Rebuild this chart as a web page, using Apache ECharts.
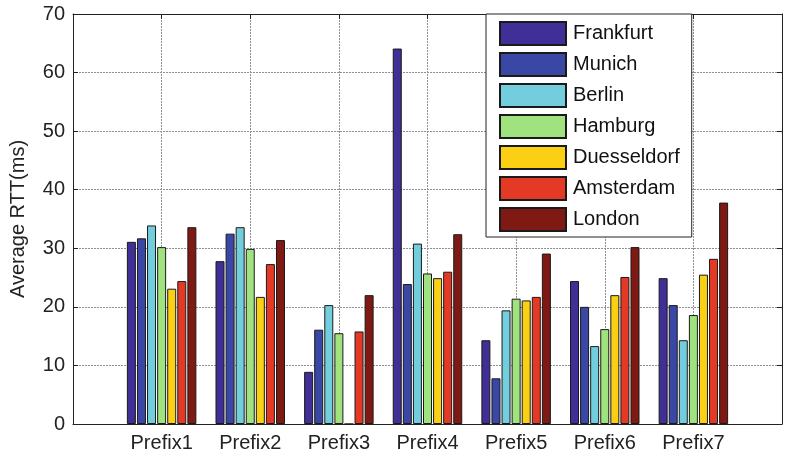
<!DOCTYPE html>
<html>
<head>
<meta charset="utf-8">
<script src="https://cdn.jsdelivr.net/npm/echarts@6/dist/echarts.min.js"></script>
<style>html,body{margin:0;padding:0;background:#fff}#c{width:785px;height:456px}</style>
</head>
<body>
<div id="c"></div>
<script>
var categories = ['Prefix1','Prefix2','Prefix3','Prefix4','Prefix5','Prefix6','Prefix7'];
var cities = ['Frankfurt','Munich','Berlin','Hamburg','Duesseldorf','Amsterdam','London'];
var frankfurt   = [31.1, 27.8,  8.9, 64.1, 14.3, 24.4, 24.9];
var munich      = [31.7, 32.5, 16.1, 23.9,  7.8, 20.0, 20.3];
var berlin      = [33.9, 33.6, 20.3, 30.8, 19.4, 13.3, 14.3];
var hamburg     = [30.2, 29.9, 15.5, 25.7, 21.4, 16.2, 18.6];
var duesseldorf = [23.1, 21.7,  0.0, 24.9, 21.1, 22.0, 25.5];
var amsterdam   = [24.4, 27.3, 15.8, 26.0, 21.7, 25.1, 28.2];
var london      = [33.6, 31.4, 22.0, 32.4, 29.1, 30.2, 37.8];
var yTicks = [0,10,20,30,40,50,60,70];
var colors = ['#3F2F96','#3A47A4','#72CEDD','#A0E27E','#FACF14','#E43A25','#7F1914'];

var seriesValues = [frankfurt, munich, berlin, hamburg, duesseldorf, amsterdam, london];
var font = '"Liberation Sans", Arial, Helvetica, sans-serif';

var chart = echarts.init(document.getElementById('c'), null, {renderer:'canvas'});
var series = seriesValues.map(function(vals, si){
  return {
    name: cities[si],
    type: 'bar',
    barWidth: 9,
    barGap: '12%',
    itemStyle: {color: colors[si], borderColor: '#1a1a1a', borderWidth: 1},
    data: vals.map(function(v, i){ return [i + 1, v]; })
  };
});

var gridLine = {show: true, lineStyle: {color: '#909090', width: 1, type: [2, 1]}};

chart.setOption({
  animation: false,
  backgroundColor: '#fff',
  textStyle: {fontFamily: font},
  grid: {left: 72, right: 0, top: 14, bottom: 32, containLabel: false},
  legend: {
    orient: 'vertical',
    left: 486, top: 14,
    padding: [7, 12, 5, 13],
    itemWidth: 66, itemHeight: 23, itemGap: 6,
    icon: 'rect',
    backgroundColor: '#fff',
    borderColor: '#222', borderWidth: 1,
    textStyle: {fontSize: 20, color: '#111', fontFamily: font, padding: [0,0,0,2]},
    data: cities
  },
  xAxis: [{
    type: 'value', min: 0, max: 8, interval: 1, position: 'bottom',
    axisLine: {show: true, onZero: false, lineStyle: {color: '#222', width: 1}},
    axisTick: {show: true, inside: true, length: 5, lineStyle: {color: '#222'}},
    axisLabel: {fontSize: 20, color: '#222', margin: 9, fontFamily: font,
      formatter: function(v){ return categories[v - 1] || ''; }},
    splitLine: gridLine
  }, {
    type: 'value', min: 0, max: 8, interval: 1, position: 'top',
    axisLine: {show: true, onZero: false, lineStyle: {color: '#222', width: 1}},
    axisTick: {show: true, inside: true, length: 5, lineStyle: {color: '#222'}},
    axisLabel: {show: false}, splitLine: {show: false}
  }],
  yAxis: [{
    type: 'value', min: yTicks[0], max: yTicks[yTicks.length - 1], interval: 10,
    name: 'Average RTT(ms)', nameLocation: 'middle', nameGap: 45,
    nameTextStyle: {fontSize: 20, color: '#222', fontFamily: font},
    axisLine: {show: true, onZero: false, lineStyle: {color: '#222', width: 1}},
    axisTick: {show: true, inside: true, length: 5, lineStyle: {color: '#222'}},
    axisLabel: {fontSize: 20, color: '#222', margin: 8, fontFamily: font},
    splitLine: gridLine
  }, {
    type: 'value', min: 0, max: 70, interval: 10, position: 'right',
    axisLine: {show: true, onZero: false, lineStyle: {color: '#222', width: 1}},
    axisTick: {show: true, inside: true, length: 5, lineStyle: {color: '#222'}},
    axisLabel: {show: false}, splitLine: {show: false}
  }],
  series: series
});
</script>
</body>
</html>
